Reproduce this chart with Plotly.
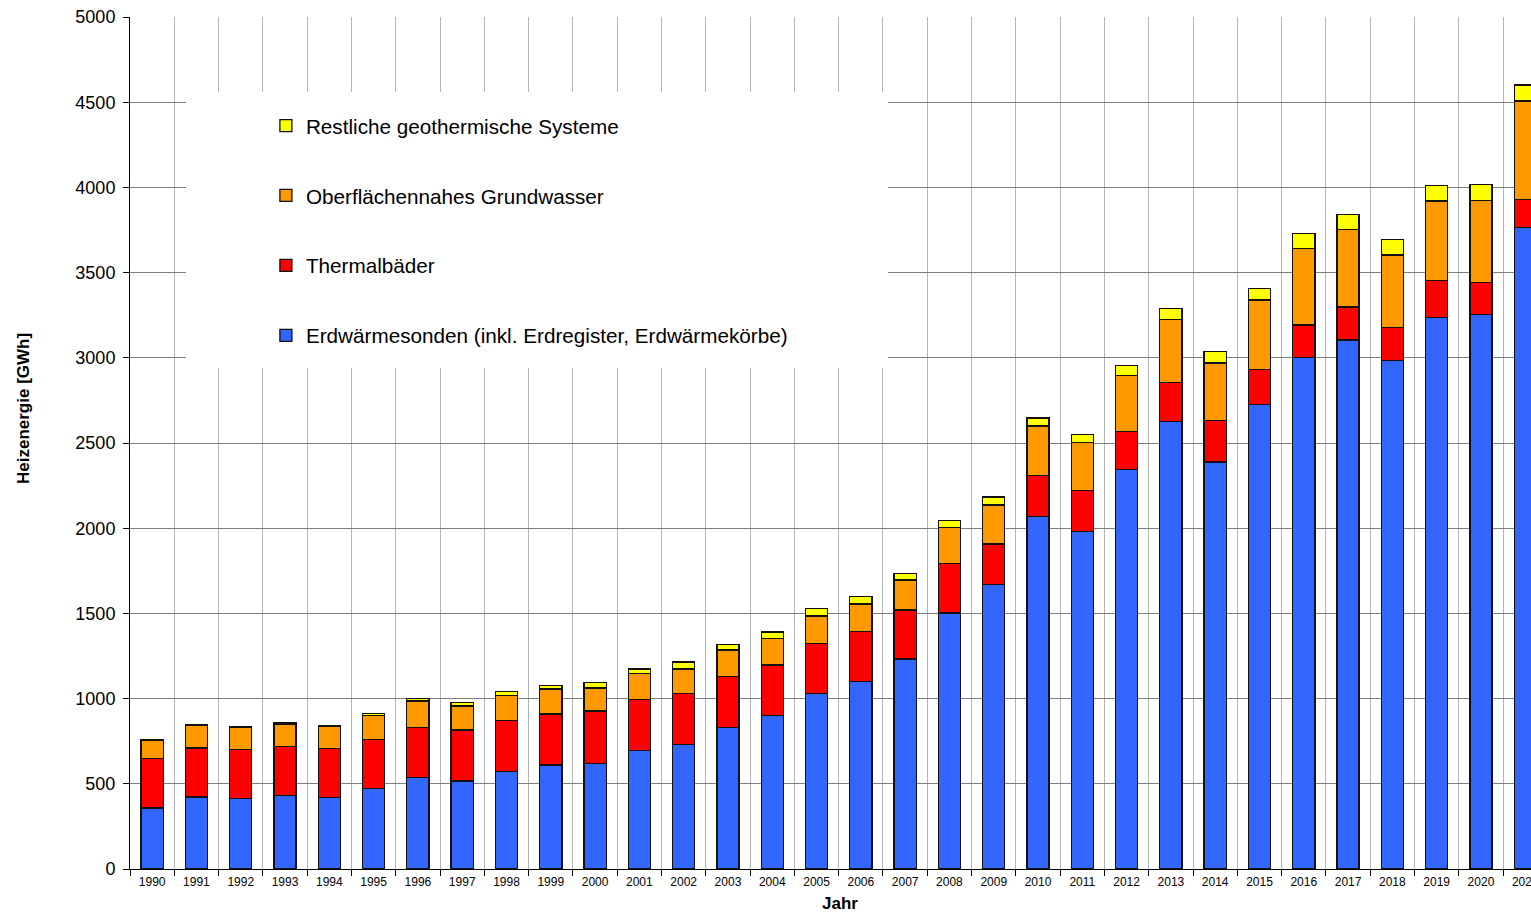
import plotly.graph_objects as go

years = [str(y) for y in range(1990, 2022)]

erdwaermesonden = [358, 422, 415, 430, 418, 473, 536, 516, 573, 610, 620, 697, 732, 831, 900,
                   1031, 1101, 1232, 1502, 1671, 2067, 1979, 2343, 2625, 2388, 2727, 3000,
                   3104, 2985, 3237, 3253, 3765]
thermalbaeder = [289, 288, 287, 290, 288, 288, 295, 300, 297, 299, 307, 297, 299, 300, 297,
                 291, 293, 288, 292, 236, 241, 243, 223, 229, 243, 205, 192, 194, 192, 215,
                 190, 165]
grundwasser = [108, 133, 127, 131, 129, 138, 155, 141, 149, 147, 135, 154, 143, 154, 154,
               163, 161, 176, 209, 229, 292, 281, 329, 372, 338, 407, 450, 456, 426, 468,
               481, 577]
restliche = [5, 6, 6, 6, 6, 12, 16, 19, 24, 22, 33, 26, 41, 33, 40, 42, 43, 37, 43, 47, 47,
             47, 61, 62, 69, 68, 86, 86, 92, 92, 92, 94]

series = [
    ("Erdwärmesonden (inkl. Erdregister, Erdwärmekörbe)", erdwaermesonden, "#3366FF"),
    ("Thermalbäder", thermalbaeder, "#FF0000"),
    ("Oberflächennahes Grundwasser", grundwasser, "#FF9900"),
    ("Restliche geothermische Systeme", restliche, "#FFFF00"),
]

FONT = "Liberation Sans, Arial, sans-serif"

fig = go.Figure()
for i, (name, vals, col) in enumerate(series):
    fig.add_trace(go.Bar(
        x=years, y=vals, name=name, legendgroup=f"g{i}", legendrank=100 - i,
        marker=dict(color=col, line=dict(color="#111111", width=1.3)),
        width=0.5,
    ))

fig.update_layout(
    width=1531, height=914,
    barmode="stack",
    paper_bgcolor="white", plot_bgcolor="white",
    margin=dict(l=130, r=0, t=17, b=45, autoexpand=False),
    font=dict(family=FONT, color="black"),
    showlegend=True,
    legend=dict(
        x=0.097, y=0.896, xanchor="left", yanchor="top",
        bgcolor="rgba(0,0,0,0)", borderwidth=0,
        traceorder="grouped", tracegroupgap=40,
        font=dict(size=20.7, family=FONT, color="black"),
    ),
    shapes=[dict(type="rect", xref="paper", yref="paper",
                 x0=(186 - 130) / 1401, x1=(888 - 130) / 1401,
                 y0=(869 - 368) / 852, y1=(869 - 92) / 852,
                 fillcolor="white", line=dict(width=0), layer="above")],
    annotations=[
        dict(text="<b>Heizenergie [GWh]</b>", xref="paper", yref="paper",
             x=-(130 - 23) / 1401, y=(869 - 409) / 852, textangle=-90,
             xanchor="center", yanchor="middle",
             showarrow=False, font=dict(size=17, family=FONT)),
        dict(text="<b>Jahr</b>", xref="paper", yref="paper",
             x=(840 - 130) / 1401, y=-(903 - 869) / 852,
             xanchor="center", yanchor="middle",
             showarrow=False, font=dict(size=17, family=FONT)),
    ],
)

fig.update_xaxes(
    type="category", range=[-0.5, 31.13], automargin=False,
    tickson="boundaries", ticks="outside", ticklen=6, tickcolor="black",
    ticklabelstandoff=2,
    showline=True, linecolor="black", linewidth=1,
    showgrid=True, gridcolor="#b4b4b4", gridwidth=1,
    tickfont=dict(size=12, family=FONT),
)
fig.update_yaxes(
    range=[0, 5000], dtick=500, tick0=0, automargin=False,
    ticks="outside", ticklen=6, tickcolor="black", ticklabelstandoff=4,
    showline=True, linecolor="black", linewidth=1,
    showgrid=True, gridcolor="#808080", gridwidth=1,
    zeroline=False,
    tickfont=dict(size=18, family=FONT),
)

fig.write_html("out.html", config={"displayModeBar": False},
               post_script="document.body.style.margin='0';document.body.style.overflow='hidden';")
